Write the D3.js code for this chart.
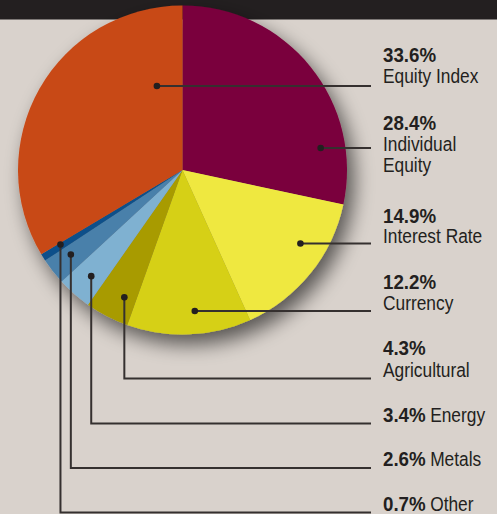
<!DOCTYPE html>
<html><head><meta charset="utf-8">
<script src="https://cdn.jsdelivr.net/npm/d3@7"></script>
<style>
html,body{margin:0;padding:0;background:#d9d2cc;}
svg{display:block;}
text{font-family:"Liberation Sans",Arial,sans-serif;fill:#231f20;}
</style></head>
<body>
<svg id="chart" width="497" height="514"></svg>
<script>
// ---- data ----
const categories = ["Individual Equity","Interest Rate","Currency","Agricultural","Energy","Metals","Other","Equity Index"];
const values     = [28.4, 14.9, 12.2, 4.3, 3.4, 2.6, 0.7, 33.6];
const pctLabels  = ["28.4%","14.9%","12.2%","4.3%","3.4%","2.6%","0.7%","33.6%"];
const colors     = ["#7a003c","#efe840","#d6d012","#a89b00","#7fb1d1","#4a80aa","#0a508a","#c84a19"];

// ---- layout (not data) ----
const W = 497, H = 514;
const cx = 182.5, cy = 170, R = 164.5;
const svg = d3.select("#chart");

svg.append("rect").attr("width", W).attr("height", H).attr("fill", "#d9d2cc");
svg.append("rect").attr("width", W).attr("height", 19.5).attr("fill", "#231f20");

const defs = svg.append("defs");
const f = defs.append("filter").attr("id","shadow").attr("x","-30%").attr("y","-30%").attr("width","160%").attr("height","160%");
f.append("feGaussianBlur").attr("in","SourceAlpha").attr("stdDeviation",10).attr("result","b");
f.append("feOffset").attr("in","b").attr("dx",7).attr("dy",10).attr("result","o");
f.append("feComponentTransfer").attr("in","o").attr("result","s")
  .append("feFuncA").attr("type","linear").attr("slope",0.6);
const m = f.append("feMerge");
m.append("feMergeNode").attr("in","s");
m.append("feMergeNode").attr("in","SourceGraphic");

const pie = d3.pie().sort(null).value(d => d)(values);
const arc = d3.arc().innerRadius(0).outerRadius(R);

const g = svg.append("g").attr("transform", `translate(${cx},${cy})`);
const pg = g.append("g").attr("filter","url(#shadow)");
pg.selectAll("path").data(pie).join("path")
  .attr("d", arc).attr("fill", (d,i) => colors[i]);

// leader anchors: fraction across slice angle and radius
const anchorFrac = [0.79, 0.37, 0.44, 0.32, 0.46, 0.60, 0.77, 0.86];
const anchorRad  = [140, 139, 142, 140, 140, 140, 143, 88];
const lineY  = [148, 243.5, 311, 378.5, 423.5, 468, 512.5, 86];
const bend   = [false,false,false,true,true,true,true,false];
const lineEndX = 371;
const textX = 383;

function anchor(i){
  const d = pie[i];
  const a = d.startAngle + (d.endAngle - d.startAngle) * anchorFrac[i];
  return [cx + anchorRad[i]*Math.sin(a), cy - anchorRad[i]*Math.cos(a)];
}

const lg = svg.append("g");
categories.forEach((c,i) => {
  const [ax, ay] = anchor(i);
  let pts;
  if (bend[i]) pts = [[ax, ay],[ax, lineY[i]],[lineEndX, lineY[i]]];
  else pts = [[ax, lineY[i]],[lineEndX, lineY[i]]];
  lg.append("path").attr("d", d3.line()(pts))
    .attr("fill","none").attr("stroke","#35302f").attr("stroke-width",2);
  lg.append("circle").attr("cx", ax).attr("cy", bend[i] ? ay : lineY[i]).attr("r",3.3).attr("fill","#231f20");
});

const labelLines = {
  "Equity Index":      {y:[62, 83],            lines:["Equity Index"]},
  "Individual Equity": {y:[130, 151, 172],     lines:["Individual","Equity"]},
  "Interest Rate":     {y:[223, 243],          lines:["Interest Rate"]},
  "Currency":          {y:[289, 310],          lines:["Currency"]},
  "Agricultural":      {y:[355, 377],          lines:["Agricultural"]},
  "Energy":            {y:[422],               lines:[]},
  "Metals":            {y:[466],               lines:[]},
  "Other":             {y:[511],               lines:[]}
};
const FS = 19.5, SX = 0.89, SXB = 0.96;
const tg = svg.append("g");
function txt(x, y, bold){
  const s = bold ? SXB : SX;
  const t = tg.append("text").attr("transform", `translate(${x},${y}) scale(${s},1)`).attr("font-size", FS);
  if (bold) t.attr("font-weight","bold");
  return t;
}
categories.forEach((c,i) => {
  const L = labelLines[c];
  const b = txt(textX, L.y[0], true).text(pctLabels[i]);
  if (L.lines.length === 0) {
    const w = b.node().getComputedTextLength() * SXB;
    txt(textX + w + 4.5, L.y[0], false).text(c);
  } else {
    L.lines.forEach((ln, k) => txt(textX, L.y[k+1], false).text(ln));
  }
});
</script>
</body></html>
